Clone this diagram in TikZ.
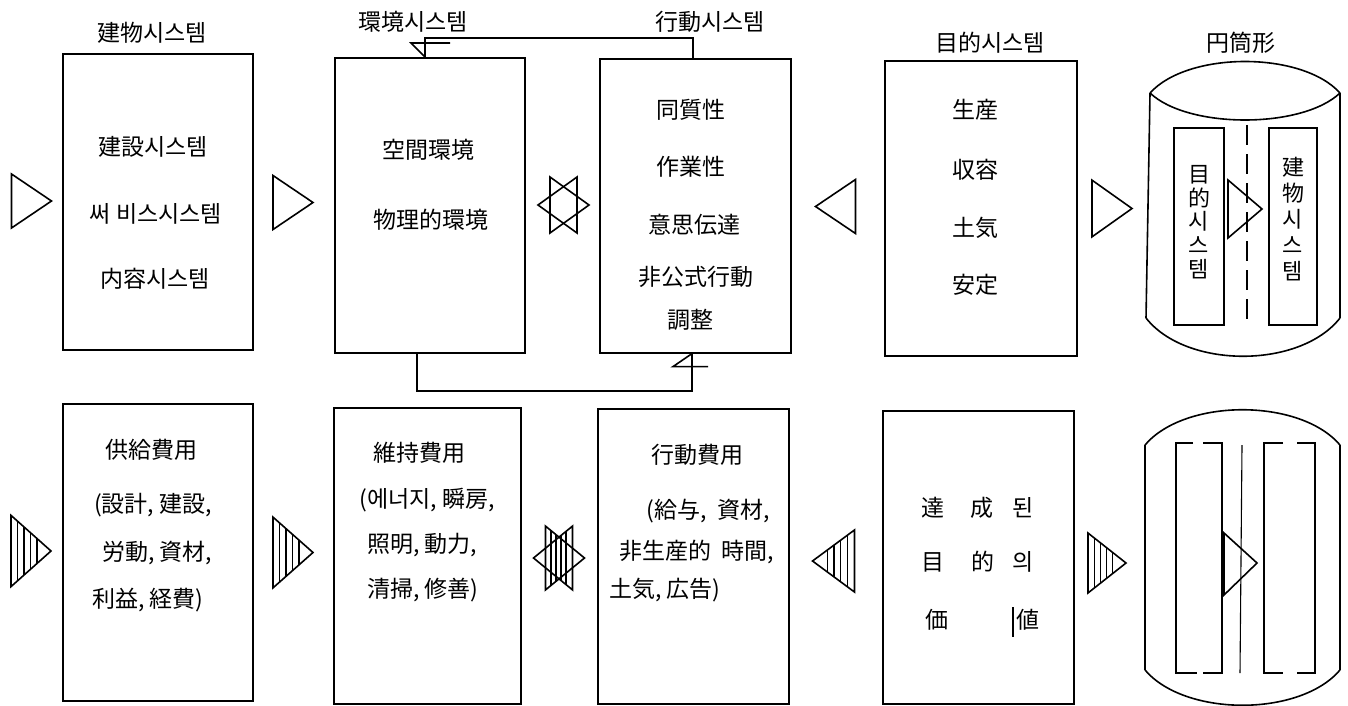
\documentclass[tikz,border=0pt]{standalone}
\usepackage{fontspec}
\newfontfamily\cjk{Noto Sans CJK JP}
\tikzset{
  ln/.style={line width=1.6pt, line join=miter},
  hl/.style={line width=1.1pt},
  txt/.style={font=\cjk\fontsize{23}{26}\selectfont, inner sep=0pt},
  sysbox/.style={draw, ln, anchor=north west, inner sep=0pt},
  tri/.pic={\draw[ln] (-20,-27) -- (20,0) -- (-20,27) -- cycle;},
  htri/.pic={\draw[ln] (-20,-27) -- (20,0) -- (-20,27) -- cycle;
     \foreach \x in {-13.5,-7,-0.5,6}{\draw[hl] (\x,{-27*(20-\x)/40}) -- (\x,{27*(20-\x)/40});}},
  hexa/.pic={\draw[ln] (-13.5,-28) -- (25.5,0) -- (-13.5,28) -- cycle;
     \draw[ln] (13.5,-28) -- (-25.5,0) -- (13.5,28) -- cycle;},
  hhexa/.pic={\begin{scope}
       \clip (-13.5,-28) -- (25.5,0) -- (-13.5,28) -- cycle (13.5,28) -- (-25.5,0) -- (13.5,-28) -- cycle;
       \foreach \x in {-8,-3,2,7}{\draw[hl] (\x,-40) -- (\x,40);}
     \end{scope}
     \draw[ln] (-13.5,-28) -- (25.5,0) -- (-13.5,28) -- cycle;
     \draw[ln] (13.5,-28) -- (-25.5,0) -- (13.5,28) -- cycle;},
}
\begin{document}
\begin{tikzpicture}[x=1pt,y=-1pt]
\useasboundingbox (0,0) rectangle (1348,706);
\fill[white] (0,0) rectangle (1348,706);

% ---------- top row boxes ----------
\node[sysbox, minimum width=190pt, minimum height=296pt] (b1) at (62,53) {};
\node[sysbox, minimum width=190pt, minimum height=295pt] (b2) at (334,57) {};
\node[sysbox, minimum width=191pt, minimum height=294pt] (b3) at (599,58) {};
\node[sysbox, minimum width=192pt, minimum height=295pt] (b4) at (884,60) {};

% titles
\node[txt] (t1) at (152,33) {建物시스템};
\node[txt] (t2) at (413,22) {環境시스템};
\node[txt] (t3) at (710,22) {行動시스템};
\node[txt] (t4) at (990,43) {目的시스템};
\node[txt] (t5) at (1241,43) {円筒形};

% box texts
\node[txt] (b1a) at (153,147) {建設시스템};
\node[txt] (b1b) at (156,214) {써 비스시스템};
\node[txt] (b1c) at (155,279) {内容시스템};

\node[txt] (b2a) at (428,150) {空間環境};
\node[txt] (b2b) at (431,220) {物理的環境};

\node[txt] (b3a) at (691,110) {同質性};
\node[txt] (b3b) at (691,167) {作業性};
\node[txt] (b3c) at (694,225) {意思伝達};
\node[txt] (b3d) at (696,277) {非公式行動};
\node[txt] (b3e) at (690,320) {調整};

\node[txt] (b4a) at (975,110) {生産};
\node[txt] (b4b) at (975,170) {収容};
\node[txt] (b4c) at (975,228) {土気};
\node[txt] (b4d) at (975,285) {安定};

% symbols top
\pic at (31.5,201) {tri};
\pic at (293,202.5) {tri};
\pic at (563.5,205) {hexa};
\pic[xscale=-1] at (835.5,206.5) {tri};
\pic[yscale=1.05] at (1112,208.5) {tri};

% feedback loop between environment and behaviour systems
\coordinate (fa) at (425,38);
\coordinate (fb) at (693,38);
\draw[ln] (fb |- b3.north) -- (fb) -- (fa) -- (fa |- b2.north);
\draw[ln] (fa |- b2.north) -- ++(-14,-14) -- ++(39,0);
\coordinate (ga) at (417,391);
\coordinate (gb) at (692,391);
\draw[ln] (ga |- b2.south) -- (ga) -- (gb) -- (gb |- b3.south);
\draw[ln] (gb |- b3.south) -- ++(-19,13) -- ++(35,0);

% cylinder (top)
\draw[ln] (1150,93) .. controls (1188,51) and (1302,51) .. (1340,93);
\draw[ln] (1150,93) .. controls (1188,129) and (1302,129) .. (1340,93);
\draw[ln] (1150,93) -- (1146,318);
\draw[ln] (1340,93) -- (1340,318);
\draw[ln] (1146,318) .. controls (1186,369) and (1300,369) .. (1340,318);
\draw[ln] (1174,128) rectangle (1224,325);
\draw[ln] (1269,128) rectangle (1317,325);
\draw[ln, dash pattern=on 20pt off 9pt] (1247,125) -- (1247,328);
\draw[ln] (1228,180) -- (1262,209) -- (1228,238) -- cycle;
\node[txt, font=\cjk\fontsize{22}{23.8}\selectfont, align=center] (cyl1) at (1199,222) {目\\的\\시\\스\\템};
\node[txt, font=\cjk\fontsize{22}{26}\selectfont, align=center] (cyl2) at (1293,219) {建\\物\\시\\스\\템};

% ---------- bottom row boxes ----------
\node[sysbox, minimum width=190pt, minimum height=297pt] (c1) at (62,403) {};
\node[sysbox, minimum width=187pt, minimum height=296pt] (c2) at (333,407) {};
\node[sysbox, minimum width=191pt, minimum height=295pt] (c3) at (597,408) {};
\node[sysbox, minimum width=191pt, minimum height=293pt] (c4) at (882,410) {};

\node[txt] (c1a) at (151,450) {供給費用};
\node[txt] (c1b) at (153,505) {(設計, 建設,};
\node[txt] (c1c) at (157,553) {労動, 資材,};
\node[txt] (c1d) at (148,600) {利益, 経費)};

\node[txt] (c2a) at (419,453) {維持費用};
\node[txt] (c2b) at (427,500) {(에너지, 瞬房,};
\node[txt] (c2c) at (422,545) {照明, 動力,};
\node[txt] (c2d) at (423,590) {清掃, 修善)};

\node[txt] (c3a) at (697,455) {行動費用};
\node[txt] (c3b) at (708,511) {(給与,\ \ 資材,};
\node[txt] (c3c) at (697,552) {非生産的\ \ 時間,};
\node[txt] (c3d) at (665,590) {土気,\ 広告)};

\node[txt] (c4a) at (933,508) {達};
\node[txt] (c4b) at (982,508) {成};
\node[txt] (c4c) at (1023,508) {된};
\node[txt] (c4d) at (933,562) {目};
\node[txt] (c4e) at (983,562) {的};
\node[txt] (c4f) at (1023,562) {의};
\node[txt] (c4g) at (937,620) {価};
\node[txt] (c4h) at (1028,620) {値};
\draw[hl] (1013,607) -- (1013,637);

% symbols bottom
\pic[yscale=1.32] at (31,551) {htri};
\pic[yscale=1.31] at (293,552.5) {htri};
\pic[yscale=1.14] at (559,558) {hhexa};
\pic[xscale=-1.05,yscale=1.15] at (833.5,561) {htri};
\pic[xscale=0.95,yscale=1.11] at (1107,563) {htri};

% barrel (bottom)
\draw[ln] (1145,445) .. controls (1185,398) and (1300,398) .. (1340,445);
\draw[ln] (1145,445) -- (1145,670);
\draw[ln] (1340,445) -- (1340,670);
\draw[ln] (1145,670) .. controls (1185,717) and (1300,717) .. (1340,670);
\draw[ln] (1193,443) -- (1176,443) -- (1176,673) -- (1197,673);
\draw[ln] (1203,443) -- (1222,443) -- (1222,673) -- (1203,673);
\draw[ln] (1283,443) -- (1264,443) -- (1264,673) -- (1283,673);
\draw[ln] (1297,443) -- (1315,443) -- (1315,673) -- (1297,673);
\draw[hl] (1242,445) -- (1240,673);
\draw[ln] (1224,533) -- (1257,563) -- (1224,595) -- cycle;
\end{tikzpicture}
\end{document}
